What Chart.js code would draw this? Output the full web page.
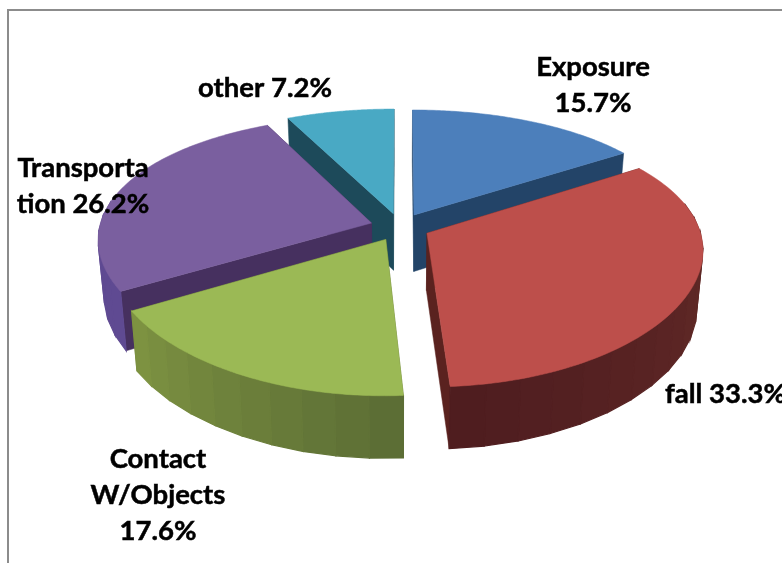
<!DOCTYPE html>
<html><head><meta charset="utf-8">
<script src="https://cdn.jsdelivr.net/npm/chart.js@4"></script>
<style>html,body{margin:0;padding:0;background:#fff}canvas{display:block}</style>
</head><body><canvas id="c" width="782" height="563"></canvas>
<script>
const categories = ['Exposure', 'fall', 'Contact W/Objects', 'Transportation', 'other'];
const shares = [15.7, 33.3, 17.6, 26.2, 7.2];
const labelLines = [['Exposure', '15.7%'], ['fall 33.3%'], ['Contact', 'W/Objects', '17.6%'], ['Transporta', 'tion 26.2%'], ['other 7.2%']];

const topColors = ['#4c7fbb', '#bd4f4b', '#9bb955', '#7a5f9f', '#49a9c4'];
const cutColors = ['#234468', '#5a221f', '#5a6a2c', '#46305f', '#1d4a5a'];
const rimFrom = ['#2b527f', '#6a302a', '#5a6c34', '#5f4a92', '#2a6577'];
const rimTo = ['#2b527f', '#4e1c1f', '#7f9442', '#5f4a92', '#2a6577'];
const labelAnchors = [[593, 67], [665, 394], [158, 459], [83, 168], [265, 88]];

const view = {cx: 400, cy: 227, rx: 272, ry: 126, perspX: 0.12, perspY: 0.165, depth: 57, depthFront: 5, shrink: 0.98, explode: 0.11, facet: Math.PI / 26};

function rgb(h) { return [1, 3, 5].map(i => parseInt(h.substr(i, 2), 16)); }
function mix(a, b, t) { const x = rgb(a), y = rgb(b); return 'rgb(' + x.map((v, i) => Math.round(v + (y[i] - v) * t)).join(',') + ')'; }

function topPt(u, v) {
  return [view.cx + view.rx * u / (1 - view.perspX * v), view.cy + view.ry * v / (1 - view.perspY * v)];
}
function lowPt(u, v) {
  const p = topPt(u, v);
  return [view.cx + (p[0] - view.cx) * view.shrink, p[1] + view.depth + view.depthFront * v];
}
function poly(ctx, pts, fill, edge) {
  ctx.beginPath();
  pts.forEach((p, i) => i ? ctx.lineTo(p[0], p[1]) : ctx.moveTo(p[0], p[1]));
  ctx.closePath();
  ctx.fillStyle = fill; ctx.strokeStyle = fill; ctx.lineWidth = edge;
  ctx.fill(); ctx.stroke();
}

const pie3d = {
  id: 'pie3d',
  beforeDraw(chart) {
    const ctx = chart.ctx;
    ctx.save();
    ctx.fillStyle = '#fff'; ctx.fillRect(0, 0, chart.width, chart.height);
    ctx.fillStyle = '#8c8c8c';
    ctx.fillRect(7, 9, chart.width - 7, 2);
    ctx.fillRect(7, 9, 2, chart.height - 9);
    ctx.restore();
  },
  beforeDatasetDraw(chart, args) {
    const ctx = chart.ctx, meta = args.meta;
    const slices = meta.data.map((el, i) => {
      const mid = (el.startAngle + el.endAngle) / 2;
      const ou = Math.cos(mid) * view.explode, ov = Math.sin(mid) * view.explode;
      return {el, i, ou, ov, order: topPt(ou, ov)[1]};
    }).sort((a, b) => a.order - b.order);
    ctx.save();
    slices.forEach(({el, i, ou, ov}) => {
      const a0 = el.startAngle, a1 = el.endAngle;
      const n = Math.max(2, Math.ceil((a1 - a0) / view.facet));
      const ring = [];
      for (let k = 0; k <= n; k++) {
        const a = a0 + (a1 - a0) * k / n;
        ring.push([Math.cos(a) + ou, Math.sin(a) + ov, Math.sin(a)]);
      }
      [ring[0], ring[n]].forEach(p => {
        poly(ctx, [topPt(ou, ov), topPt(p[0], p[1]), lowPt(p[0], p[1]), lowPt(ou, ov)], cutColors[i], 0.5);
      });
      for (let k = 0; k < n; k++) {
        const p = ring[k], q = ring[k + 1];
        if (Math.max(p[2], q[2]) < -0.17) continue;
        poly(ctx, [topPt(p[0], p[1]), topPt(q[0], q[1]), lowPt(q[0], q[1]), lowPt(p[0], p[1])],
          mix(rimFrom[i], rimTo[i], (k + 0.5) / n), 1.2);
      }
      const face = [topPt(ou, ov)];
      const fine = 90;
      for (let k = 0; k <= fine; k++) {
        const a = a0 + (a1 - a0) * k / fine;
        face.push(topPt(Math.cos(a) + ou, Math.sin(a) + ov));
      }
      poly(ctx, face, el.options.backgroundColor, 0.5);
    });
    ctx.restore();
    return false;
  },
  afterDatasetsDraw(chart) {
    const ctx = chart.ctx;
    ctx.save();
    ctx.font = 'bold 27.5px Lato';
    ctx.fillStyle = '#000';
    ctx.strokeStyle = '#000';
    ctx.lineWidth = 0.5;
    ctx.textBaseline = 'middle';
    labelLines.forEach((lines, i) => {
      const a = labelAnchors[i];
      ctx.textAlign = i === 1 ? 'left' : 'center';
      lines.forEach((t, k) => {
        ctx.fillText(t, a[0], a[1] + k * 36);
        ctx.strokeText(t, a[0], a[1] + k * 36);
      });
    });
    ctx.restore();
  }
};

new Chart(document.getElementById('c'), {
  type: 'pie',
  data: {labels: categories, datasets: [{data: shares, backgroundColor: topColors, borderWidth: 0, offset: 26}]},
  options: {
    responsive: false, animation: false, events: [],
    layout: {padding: 0},
    plugins: {legend: {display: false}, tooltip: {enabled: false}, title: {display: false}}
  },
  plugins: [pie3d]
});
</script></body></html>
